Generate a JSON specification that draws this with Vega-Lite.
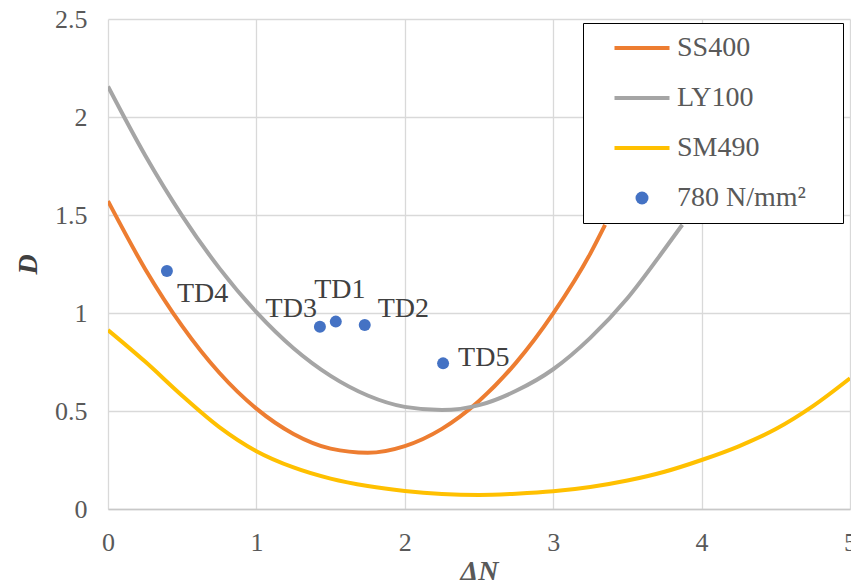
{
  "$schema": "https://vega.github.io/schema/vega-lite/v6.json",
  "width": 742,
  "height": 490,
  "autosize": {"type": "none"},
  "padding": {"left": 108, "top": 19, "right": 1, "bottom": 74},
  "background": "white",
  "config": {
    "view": {"stroke": null},
    "font": "Liberation Serif"
  },
  "datasets": {
    "curves": [
      {"series": "SS400", "x": 0, "y": 1.571}, {"series": "SS400", "x": 0.25, "y": 1.225}, {"series": "SS400", "x": 0.5, "y": 0.933}, {"series": "SS400", "x": 0.75, "y": 0.695}, {"series": "SS400", "x": 1, "y": 0.512}, {"series": "SS400", "x": 1.25, "y": 0.383}, {"series": "SS400", "x": 1.5, "y": 0.308}, {"series": "SS400", "x": 1.75, "y": 0.287}, {"series": "SS400", "x": 2, "y": 0.321}, {"series": "SS400", "x": 2.25, "y": 0.409}, {"series": "SS400", "x": 2.5, "y": 0.551}, {"series": "SS400", "x": 2.75, "y": 0.747}, {"series": "SS400", "x": 3, "y": 0.998}, {"series": "SS400", "x": 3.25, "y": 1.303}, {"series": "SS400", "x": 3.35, "y": 1.45},
      {"series": "LY100", "x": 0, "y": 2.156}, {"series": "LY100", "x": 0.25, "y": 1.805}, {"series": "LY100", "x": 0.5, "y": 1.496}, {"series": "LY100", "x": 0.75, "y": 1.229}, {"series": "LY100", "x": 1, "y": 1.004}, {"series": "LY100", "x": 1.25, "y": 0.82}, {"series": "LY100", "x": 1.5, "y": 0.679}, {"series": "LY100", "x": 1.75, "y": 0.579}, {"series": "LY100", "x": 2, "y": 0.521}, {"series": "LY100", "x": 2.25, "y": 0.505}, {"series": "LY100", "x": 2.5, "y": 0.53}, {"series": "LY100", "x": 2.75, "y": 0.603}, {"series": "LY100", "x": 3, "y": 0.713}, {"series": "LY100", "x": 3.25, "y": 0.873}, {"series": "LY100", "x": 3.5, "y": 1.075}, {"series": "LY100", "x": 3.75, "y": 1.325}, {"series": "LY100", "x": 3.87, "y": 1.45},
      {"series": "SM490", "x": 0, "y": 0.913}, {"series": "SM490", "x": 0.25, "y": 0.752}, {"series": "SM490", "x": 0.5, "y": 0.578}, {"series": "SM490", "x": 0.75, "y": 0.418}, {"series": "SM490", "x": 1, "y": 0.295}, {"series": "SM490", "x": 1.25, "y": 0.212}, {"series": "SM490", "x": 1.5, "y": 0.155}, {"series": "SM490", "x": 1.75, "y": 0.117}, {"series": "SM490", "x": 2, "y": 0.092}, {"series": "SM490", "x": 2.25, "y": 0.077}, {"series": "SM490", "x": 2.5, "y": 0.072}, {"series": "SM490", "x": 2.75, "y": 0.078}, {"series": "SM490", "x": 3, "y": 0.09}, {"series": "SM490", "x": 3.25, "y": 0.112}, {"series": "SM490", "x": 3.5, "y": 0.145}, {"series": "SM490", "x": 3.75, "y": 0.19}, {"series": "SM490", "x": 4, "y": 0.25}, {"series": "SM490", "x": 4.25, "y": 0.32}, {"series": "SM490", "x": 4.5, "y": 0.408}, {"series": "SM490", "x": 4.75, "y": 0.525}, {"series": "SM490", "x": 5, "y": 0.667}
    ],
    "tests": [
      {"series": "780 N/mm²", "label": "TD4", "x": 0.397, "y": 1.214},
      {"series": "780 N/mm²", "label": "TD3", "x": 1.428, "y": 0.93},
      {"series": "780 N/mm²", "label": "TD1", "x": 1.535, "y": 0.956},
      {"series": "780 N/mm²", "label": "TD2", "x": 1.73, "y": 0.939},
      {"series": "780 N/mm²", "label": "TD5", "x": 2.258, "y": 0.743}
    ]
  },
  "encoding": {
    "x": {
      "field": "x", "type": "quantitative",
      "scale": {"domain": [0, 5], "nice": false, "zero": false},
      "axis": {
        "title": "ΔN", "values": [0, 1, 2, 3, 4, 5], "format": "~g",
        "grid": true, "gridColor": "#D9D9D9", "gridWidth": 1.3,
        "domain": true, "domainColor": "#C8C8C8", "domainWidth": 1.3,
        "ticks": false, "labelPadding": 20,
        "labelFont": "Liberation Serif", "labelFontSize": 26, "labelColor": "#595959",
        "labelFlush": false,
        "titleFont": "Liberation Serif", "titleFontSize": 28, "titleFontWeight": "bold", "titleFontStyle": "italic", "titleColor": "#595959", "titlePadding": 2
      }
    },
    "y": {
      "field": "y", "type": "quantitative",
      "scale": {"domain": [0, 2.5], "nice": false, "zero": false},
      "axis": {
        "title": "D", "values": [0, 0.5, 1, 1.5, 2, 2.5], "format": "~g",
        "grid": true, "gridColor": "#D9D9D9", "gridWidth": 1.3,
        "domain": false, "ticks": false, "labelPadding": 21,
        "labelFont": "Liberation Serif", "labelFontSize": 26, "labelColor": "#595959",
        "labelFlush": false,
        "titleFont": "Liberation Serif", "titleFontSize": 28, "titleFontWeight": "bold", "titleFontStyle": "italic", "titleColor": "#404040", "titlePadding": 12
      }
    }
  },
  "layer": [
    {
      "data": {"name": "curves"},
      "mark": {"type": "line", "strokeWidth": 4, "interpolate": "monotone", "clip": true},
      "encoding": {
        "color": {
          "field": "series", "type": "nominal",
          "scale": {"domain": ["SS400", "LY100", "SM490", "780 N/mm²"], "range": ["#ED7D31", "#A5A5A5", "#FFC000", "#4472C4"]},
          "legend": {
            "title": null, "orient": "none", "legendX": 475, "legendY": 4, "zindex": 1,
            "strokeColor": "#000000", "fillColor": "#FFFFFF", "padding": 11,
            "labelFont": "Liberation Serif", "labelFontSize": 28, "labelColor": "#595959",
            "labelOffset": 21,
            "symbolType": "stroke", "symbolSize": 3025, "symbolStrokeWidth": 4, "symbolOffset": 34,
            "clipHeight": 28, "rowPadding": 22,
            "encode": {
              "entries": {
                "update": {
                  "width": {"value": 238},
                  "height": {"value": 28}
                }
              },
              "symbols": {
                "update": {
                  "shape": {"signal": "datum.value === '780 N/mm²' ? 'circle' : 'stroke'"},
                  "size": {"signal": "datum.value === '780 N/mm²' ? 169 : 3025"},
                  "fill": {"signal": "datum.value === '780 N/mm²' ? '#4472C4' : 'transparent'"},
                  "stroke": {"signal": "datum.value === 'SS400' ? '#ED7D31' : datum.value === 'LY100' ? '#A5A5A5' : datum.value === 'SM490' ? '#FFC000' : 'transparent'"},
                  "strokeWidth": {"signal": "datum.value === '780 N/mm²' ? 0 : 4"},
                  "opacity": {"value": 1}
                }
              }
            }
          }
        }
      }
    },
    {
      "data": {"name": "tests"},
      "mark": {"type": "point", "filled": true, "shape": "circle", "size": 144, "opacity": 1},
      "encoding": {"color": {"field": "series", "type": "nominal"}}
    },
    {
      "data": {"name": "tests"},
      "transform": [{"filter": "datum.label === 'TD4'"}],
      "mark": {"type": "text", "align": "left", "baseline": "alphabetic", "dx": 10, "dy": 31, "font": "Liberation Serif", "fontSize": 28, "color": "#404040"},
      "encoding": {"text": {"field": "label"}}
    },
    {
      "data": {"name": "tests"},
      "transform": [{"filter": "datum.label === 'TD3'"}],
      "mark": {"type": "text", "align": "right", "baseline": "alphabetic", "dx": -3, "dy": -10, "font": "Liberation Serif", "fontSize": 28, "color": "#404040"},
      "encoding": {"text": {"field": "label"}}
    },
    {
      "data": {"name": "tests"},
      "transform": [{"filter": "datum.label === 'TD1'"}],
      "mark": {"type": "text", "align": "center", "baseline": "alphabetic", "dx": 4, "dy": -24, "font": "Liberation Serif", "fontSize": 28, "color": "#404040"},
      "encoding": {"text": {"field": "label"}}
    },
    {
      "data": {"name": "tests"},
      "transform": [{"filter": "datum.label === 'TD2'"}],
      "mark": {"type": "text", "align": "left", "baseline": "alphabetic", "dx": 13, "dy": -8, "font": "Liberation Serif", "fontSize": 28, "color": "#404040"},
      "encoding": {"text": {"field": "label"}}
    },
    {
      "data": {"name": "tests"},
      "transform": [{"filter": "datum.label === 'TD5'"}],
      "mark": {"type": "text", "align": "left", "baseline": "alphabetic", "dx": 15, "dy": 3, "font": "Liberation Serif", "fontSize": 28, "color": "#404040"},
      "encoding": {"text": {"field": "label"}}
    }
  ]
}
